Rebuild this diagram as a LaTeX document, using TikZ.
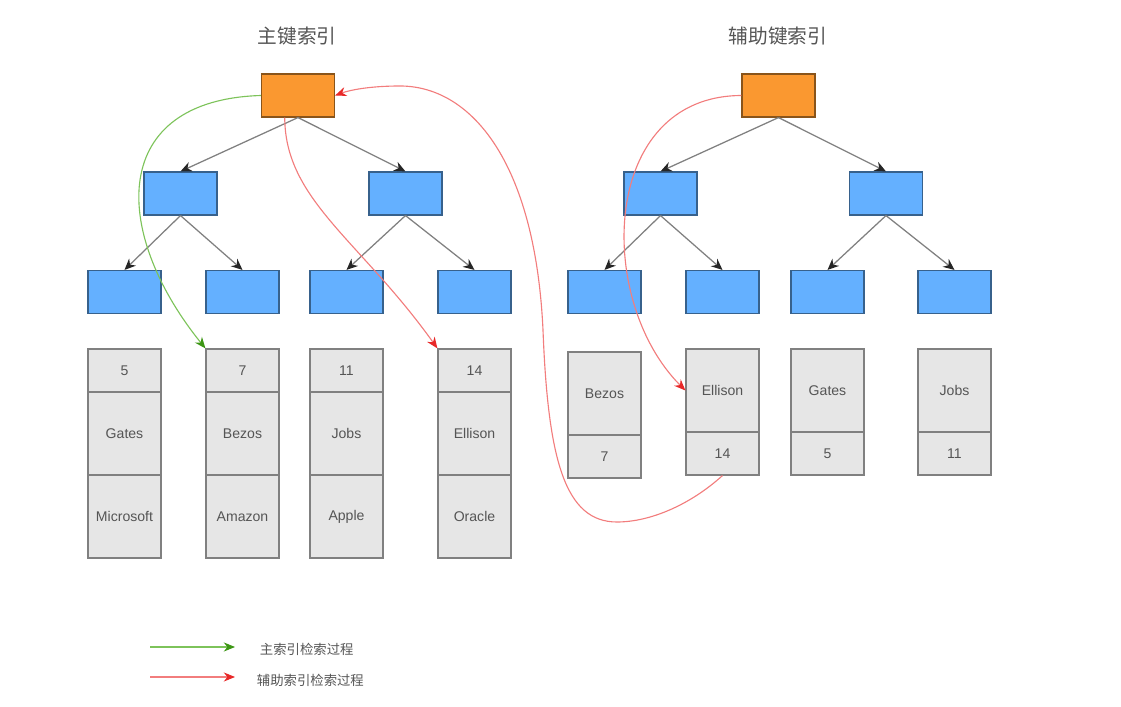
\documentclass[tikz,border=0pt]{standalone}
\usepackage{fontspec}
\setmainfont{Liberation Sans}
\newfontfamily\cjk{Noto Sans CJK SC}
\usetikzlibrary{arrows.meta}

\definecolor{rootorange}{RGB}{250,152,48}
\definecolor{nodeblue}{RGB}{100,176,255}
\definecolor{cellgray}{RGB}{230,230,230}
\definecolor{textgray}{RGB}{85,85,85}
\definecolor{pathgreen}{RGB}{125,195,90}
\definecolor{tipgreen}{RGB}{60,150,20}
\definecolor{pathred}{RGB}{242,125,125}
\definecolor{tipred}{RGB}{232,40,40}

\tikzset{
  rootbox/.style={draw=black!45!rootorange, fill=rootorange, line width=0.8pt,
    minimum width=1.825cm, minimum height=1.075cm, inner sep=0pt},
  innerbox/.style={rootbox, draw=black!45!nodeblue, fill=nodeblue},
  keycell/.style={draw=black!50, fill=cellgray, line width=0.8pt,
    minimum width=1.825cm, minimum height=1.075cm, inner sep=0pt,
    font=\fontsize{10}{12}\selectfont, text=textgray},
  namecell/.style={keycell, minimum height=2.075cm},
  treeedge/.style={draw=black!50, line width=0.9pt,
    -{Stealth[length=8pt,width=7pt,color=black!85]}},
  mainpath/.style={pathgreen, line width=0.8pt,
    -{Stealth[length=8pt,width=6.5pt,color=tipgreen]}},
  auxpath/.style={pathred, line width=0.8pt,
    -{Stealth[length=8pt,width=6.5pt,color=tipred]}},
  title/.style={font=\cjk\fontsize{14}{16}\selectfont, text=textgray},
  legendtext/.style={font=\cjk\fontsize{9.5}{11}\selectfont, text=textgray, anchor=west}
}

\begin{document}
\begin{tikzpicture}[x=0.025cm, y=-0.025cm]
        \useasboundingbox (0,0) rectangle (1121,707);

        % Titoli
        \node[title] (tmain) at (297,36) {主键索引};
        \node[title] (taux) at (778,36) {辅助键索引};

        % Albero primario
        \node[rootbox] (rootL) at (298,95.5) {};
        \node[innerbox] (aL) at (180.5,193.5) {};
        \node[innerbox] (bL) at (405.5,193.5) {};
        \node[innerbox] (aaL) at (124.5,292) {};
        \node[innerbox] (abL) at (242.5,292) {};
        \node[innerbox] (baL) at (346.5,292) {};
        \node[innerbox] (bbL) at (474.5,292) {};

        \draw[treeedge] (rootL.south) -- (aL.north);
        \draw[treeedge] (rootL.south) -- (bL.north);
        \draw[treeedge] (aL.south) -- (aaL.north);
        \draw[treeedge] (aL.south) -- (abL.north);
        \draw[treeedge] (bL.south) -- (baL.north);
        \draw[treeedge] (bL.south) -- (bbL.north);

        % Righe (chiave, nome, azienda)
        \node[keycell] (k5) at (124.5,370.5) {5};
        \node[namecell] (n5) at (124.5,433.5) {Gates};
        \node[namecell] (c5) at (124.5,516.5) {Microsoft};
        \node[keycell] (k7) at (242.5,370.5) {7};
        \node[namecell] (n7) at (242.5,433.5) {Bezos};
        \node[namecell] (c7) at (242.5,516.5) {Amazon};
        \node[keycell] (k11) at (346.5,370.5) {11};
        \node[namecell] (n11) at (346.5,433.5) {Jobs};
        \node[namecell] (c11) at (346.5,516.5) {Apple};
        \node[keycell] (k14) at (474.5,370.5) {14};
        \node[namecell] (n14) at (474.5,433.5) {Ellison};
        \node[namecell] (c14) at (474.5,516.5) {Oracle};

        % Albero secondario
        \node[rootbox] (rootR) at (778.5,95.5) {};
        \node[innerbox] (aR) at (660.5,193.5) {};
        \node[innerbox] (bR) at (886,193.5) {};
        \node[innerbox] (aaR) at (604.5,292) {};
        \node[innerbox] (abR) at (722.5,292) {};
        \node[innerbox] (baR) at (827.5,292) {};
        \node[innerbox] (bbR) at (954.5,292) {};

        \draw[treeedge] (rootR.south) -- (aR.north);
        \draw[treeedge] (rootR.south) -- (bR.north);
        \draw[treeedge] (aR.south) -- (aaR.north);
        \draw[treeedge] (aR.south) -- (abR.north);
        \draw[treeedge] (bR.south) -- (baR.north);
        \draw[treeedge] (bR.south) -- (bbR.north);

        % Righe (nome, chiave)
        \node[namecell] (sBezos) at (604.5,393.5) {Bezos};
        \node[keycell] (s7) at (604.5,456.5) {7};
        \node[namecell] (sEllison) at (722.5,390.5) {Ellison};
        \node[keycell] (s14) at (722.5,453.5) {14};
        \node[namecell] (sGates) at (827.5,390.5) {Gates};
        \node[keycell] (s5) at (827.5,453.5) {5};
        \node[namecell] (sJobs) at (954.5,390.5) {Jobs};
        \node[keycell] (s11) at (954.5,453.5) {11};

        % Percorsi di ricerca
        \draw[mainpath] (rootL.west) .. controls (110,100) and (110,230) .. (k7.north west);
        \draw[auxpath] (rootR.west) .. controls (600,96) and (595,300) .. (sEllison.west);
        \coordinate (rb1) at (617,522);
        \coordinate (rb2) at (543,330);
        \coordinate (rb3) at (400,86);
        \draw[auxpath] (s14.south) .. controls (690,505) and (650,522) .. (rb1)
              .. controls (565,522) and (548,460) .. (rb2)
              .. controls (535,160) and (470,86) .. (rb3)
              .. controls (370,86) and (350,90) .. (rootL.east);
        \draw[auxpath] (rootL.-121) .. controls (285,200) and (360,240) .. (k14.north west);

        % Legenda
        \coordinate (lgA) at (150,647);
        \coordinate (lgB) at (235,647);
        \coordinate (lgC) at (150,677);
        \coordinate (lgD) at (235,677);
        \draw[mainpath] (lgA) -- (lgB);
        \draw[auxpath] (lgC) -- (lgD);
        \node[legendtext] (lgmain) at (255,649) {主索引检索过程};
        \node[legendtext] (lgaux) at (252,680) {辅助索引检索过程};
    \end{tikzpicture}
\end{document}
